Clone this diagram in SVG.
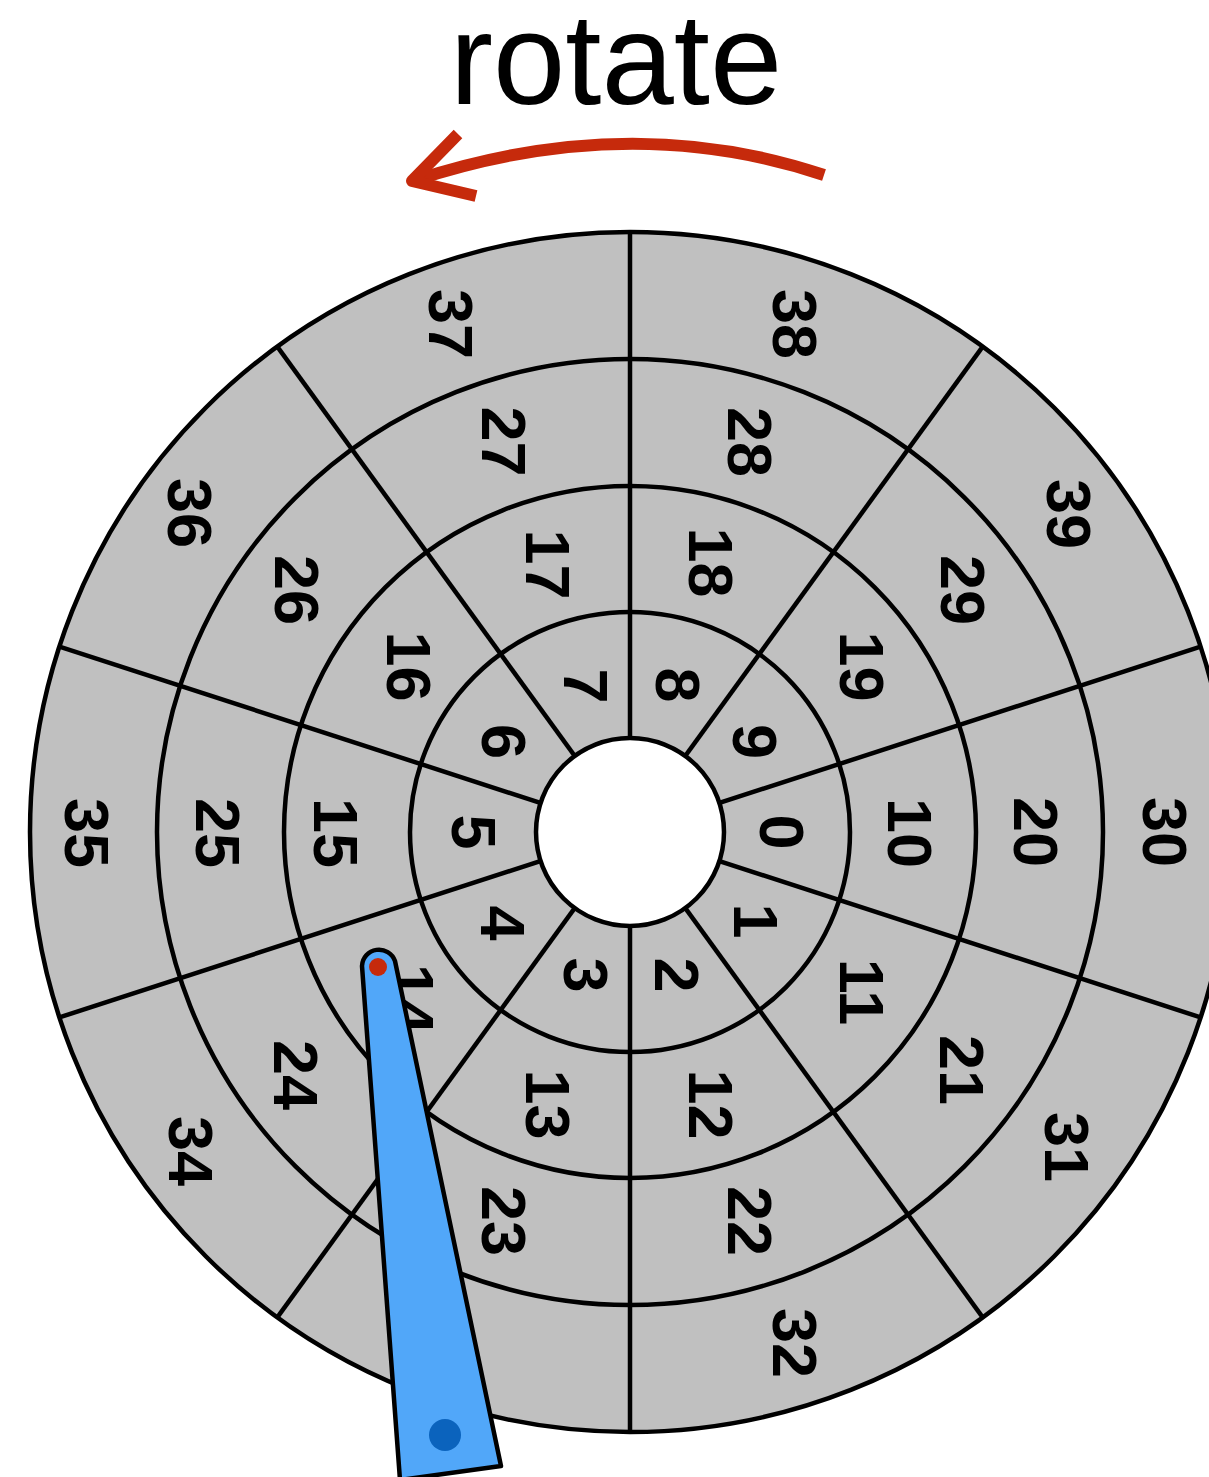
<svg xmlns="http://www.w3.org/2000/svg" width="1209" height="1477" viewBox="0 0 1209 1477">
<style>
.ln{stroke:#000;stroke-width:4.5;fill:none}
.lbl{font-family:"Liberation Sans",Arial,sans-serif;font-weight:bold;font-size:63px;text-anchor:middle;fill:#000}
.title{font-family:"Liberation Sans",Arial,sans-serif;font-size:130px;text-anchor:middle;fill:#000}
.red{stroke:#C62A0C;stroke-width:12;fill:none}
</style>
<rect width="1209" height="1477" fill="#fff"/>
<g id="title"><text class="title" x="616" y="104">rotate</text></g>
<g id="rotate-arrow">
<path class="red" d="M 824 175 Q 630 110 416 180"/>
<polyline class="red" points="458,134 412,181 476,196" stroke-linejoin="round"/>
</g>
<g id="disk">
<circle cx="630" cy="832" r="600" fill="#C0C0C0"/>
<g id="spokes">
<line class="ln" x1="630" y1="232" x2="630" y2="1432"/>
<line class="ln" x1="982.7" y1="346.6" x2="277.3" y2="1317.4"/>
<line class="ln" x1="1200.6" y1="646.6" x2="59.4" y2="1017.4"/>
<line class="ln" x1="1200.6" y1="1017.4" x2="59.4" y2="646.6"/>
<line class="ln" x1="982.7" y1="1317.4" x2="277.3" y2="346.6"/>
</g>
<g id="rings">
<circle class="ln" cx="630" cy="832" r="220"/>
<circle class="ln" cx="630" cy="832" r="346"/>
<circle class="ln" cx="630" cy="832" r="473"/>
<circle class="ln" cx="630" cy="832" r="600"/>
</g>
<circle id="hub" class="ln" cx="630" cy="832" r="94" style="fill:#fff"/>
</g>
<g id="labels">
<text class="lbl" transform="translate(782,832) rotate(90)" y="22">0</text>
<text class="lbl" transform="translate(756,921) rotate(90)" y="22">1</text>
<text class="lbl" transform="translate(677,975) rotate(90)" y="22">2</text>
<text class="lbl" transform="translate(586,975) rotate(90)" y="22">3</text>
<text class="lbl" transform="translate(503,923) rotate(90)" y="22">4</text>
<text class="lbl" transform="translate(473.5,832) rotate(90)" y="22">5</text>
<text class="lbl" transform="translate(503.5,741.5) rotate(90)" y="22">6</text>
<text class="lbl" transform="translate(585.5,686) rotate(90)" y="22">7</text>
<text class="lbl" transform="translate(677.5,685) rotate(90)" y="22">8</text>
<text class="lbl" transform="translate(755,741.5) rotate(90)" y="22">9</text>
<text class="lbl" transform="translate(909.5,833) rotate(90)" y="22">10</text>
<text class="lbl" transform="translate(862,992) rotate(90)" y="22">11</text>
<text class="lbl" transform="translate(710.5,1104.5) rotate(90)" y="22">12</text>
<text class="lbl" transform="translate(548,1104.5) rotate(90)" y="22">13</text>
<text class="lbl" transform="translate(412,999) rotate(90)" y="22">14</text>
<text class="lbl" transform="translate(336,833) rotate(90)" y="22">15</text>
<text class="lbl" transform="translate(408.5,666.5) rotate(90)" y="22">16</text>
<text class="lbl" transform="translate(548,564.5) rotate(90)" y="22">17</text>
<text class="lbl" transform="translate(710.5,562.5) rotate(90)" y="22">18</text>
<text class="lbl" transform="translate(861.5,666.5) rotate(90)" y="22">19</text>
<text class="lbl" transform="translate(1036,832) rotate(90)" y="22">20</text>
<text class="lbl" transform="translate(961.5,1070) rotate(90)" y="22">21</text>
<text class="lbl" transform="translate(750,1221) rotate(90)" y="22">22</text>
<text class="lbl" transform="translate(503.5,1221) rotate(90)" y="22">23</text>
<text class="lbl" transform="translate(296,1075) rotate(90)" y="22">24</text>
<text class="lbl" transform="translate(217.5,833) rotate(90)" y="22">25</text>
<text class="lbl" transform="translate(296.5,590) rotate(90)" y="22">26</text>
<text class="lbl" transform="translate(503.5,441.5) rotate(90)" y="22">27</text>
<text class="lbl" transform="translate(750,442) rotate(90)" y="22">28</text>
<text class="lbl" transform="translate(962.5,590) rotate(90)" y="22">29</text>
<text class="lbl" transform="translate(1165,832) rotate(90)" y="22">30</text>
<text class="lbl" transform="translate(1067,1147) rotate(90)" y="22">31</text>
<text class="lbl" transform="translate(795,1343) rotate(90)" y="22">32</text>
<text class="lbl" transform="translate(451,1343) rotate(90)" y="22">33</text>
<text class="lbl" transform="translate(191,1151) rotate(90)" y="22">34</text>
<text class="lbl" transform="translate(87,833) rotate(90)" y="22">35</text>
<text class="lbl" transform="translate(190,513) rotate(90)" y="22">36</text>
<text class="lbl" transform="translate(451,324) rotate(90)" y="22">37</text>
<text class="lbl" transform="translate(795,324) rotate(90)" y="22">38</text>
<text class="lbl" transform="translate(1068.5,514) rotate(90)" y="22">39</text>
</g>
<g id="arm">
<path d="M 362 966 L 400 1480 L 501 1466 L 395 961 A 17 17 0 0 0 362 966 Z" fill="#51A7F9" stroke="#000" stroke-width="4.5" stroke-linejoin="round"/>
<circle cx="378" cy="967" r="9" fill="#C62A0C"/>
<circle cx="445" cy="1435" r="16" fill="#0B63BD"/>
</g>
</svg>
